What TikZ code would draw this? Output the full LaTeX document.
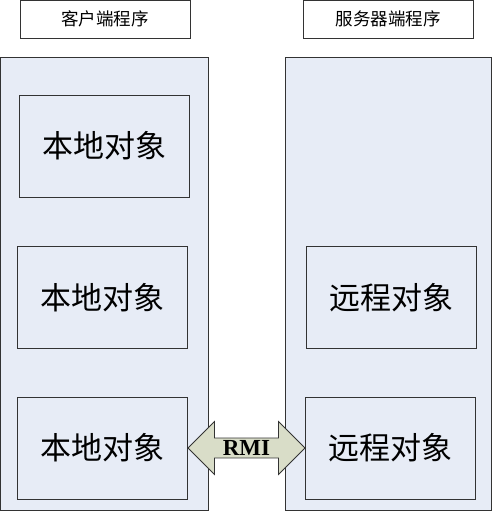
\documentclass[tikz,border=0pt]{standalone}
\usepackage{fontspec}
\setmainfont{Liberation Serif}
\newfontfamily\cjk{Noto Sans CJK SC}
\usetikzlibrary{shapes.arrows,calc}
\definecolor{panelfill}{HTML}{E7ECF6}
\definecolor{boxline}{HTML}{333333}
\definecolor{arrowfill}{HTML}{D9DDC8}
\tikzset{
  panel/.style={draw=boxline, line width=0.9pt, fill=panelfill},
  header/.style={draw=boxline, line width=0.9pt, fill=white, minimum width=170pt, minimum height=38pt, inner sep=0pt, font=\cjk\fontsize{17.5}{17.5}\selectfont},
  objbox/.style={draw=boxline, line width=0.9pt, fill=panelfill, minimum width=170pt, minimum height=102pt, inner sep=0pt, font=\cjk\fontsize{31}{31}\selectfont},
  rmiarrow/.style={double arrow, draw=boxline, line width=0.8pt, fill=arrowfill, minimum height=117pt, minimum width=52pt, inner xsep=0pt, inner ysep=2pt, double arrow head extend=16.5pt, double arrow tip angle=90, font=\bfseries\fontsize{23}{23}\selectfont}
}
\begin{document}
\begin{tikzpicture}[x=1pt,y=-1pt]
\useasboundingbox (0,0) rectangle (493,512);
\fill[white] (0,0) rectangle (493,512);
% headers
\node[header] (hc) at (105,19) {客户端程序};
\node[header] (hs) at (388,19) {服务器端程序};
% panels
\draw[panel] (0.5,57.5) rectangle (208,510.5);
\draw[panel] (285,57.5) rectangle (491.5,510.5);
% objects, client side
\node[objbox] (c1) at (104.5,146) {本地对象};
\node[objbox] (c2) at (102.5,297.5) {本地对象};
\node[objbox] (c3) at (102.5,448) {本地对象};
% objects, server side
\node[objbox] (s2) at (391.5,297.5) {远程对象};
\node[objbox] (s3) at (390.5,448) {远程对象};
% RMI arrow
\node[rmiarrow] (rmi) at ($(c3.east)!0.5!(s3.west)$) {RMI};
\end{tikzpicture}
\end{document}
